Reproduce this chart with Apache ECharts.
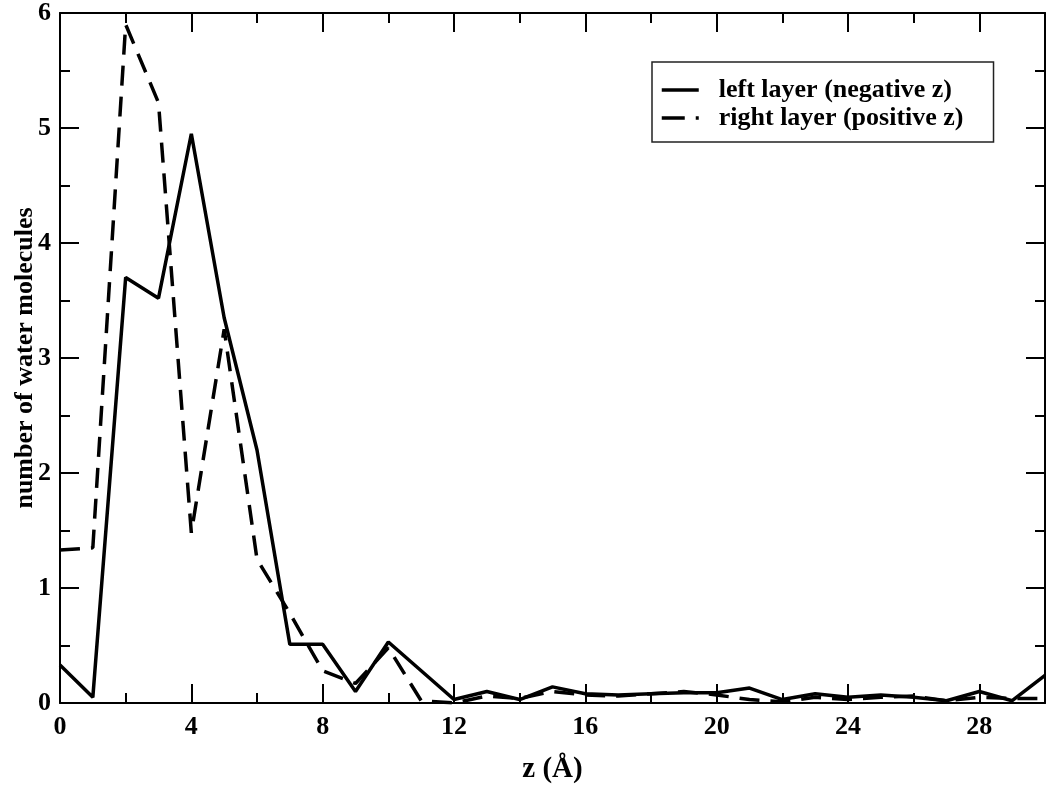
<!DOCTYPE html>
<html>
<head>
<meta charset="utf-8">
<script src="https://cdn.jsdelivr.net/npm/echarts@6/dist/echarts.min.js"></script>
<style>html,body{margin:0;padding:0;background:#fff;}#c{width:1050px;height:785px;}</style>
</head>
<body>
<div id="c"></div>
<script>
var zValues = [0,1,2,3,4,5,6,7,8,9,10,11,12,13,14,15,16,17,18,19,20,21,22,23,24,25,26,27,28,29,30];
var leftLayer = [0.33,0.05,3.7,3.52,4.95,3.35,2.2,0.51,0.51,0.1,0.53,0.28,0.03,0.1,0.03,0.14,0.08,0.07,0.08,0.09,0.09,0.13,0.03,0.08,0.05,0.07,0.05,0.02,0.1,0.02,0.24];
var rightLayer = [1.33,1.35,5.9,5.22,1.48,3.25,1.25,0.78,0.28,0.17,0.48,0.02,0.0,0.06,0.04,0.1,0.07,0.06,0.08,0.1,0.07,0.03,0.01,0.05,0.03,0.05,0.06,0.02,0.05,0.04,0.04];
var seriesNames = ['left layer (negative z)', 'right layer (positive z)'];
var xTitle = 'z (Å)';
var yTitle = 'number of water molecules';

var FONT = '"Liberation Serif", "Times New Roman", serif';
function pairs(ys){ return zValues.map(function(z,i){ return [z, ys[i]]; }); }

var axisLineStyle = { show: true, onZero: false, lineStyle: { color: '#000', width: 2 } };
var majorTick = { show: true, inside: true, length: 19, lineStyle: { color: '#000', width: 2 } };
var minorTick = { show: true, splitNumber: 2, length: 10, lineStyle: { color: '#000', width: 2 } };

var chart = echarts.init(document.getElementById('c'), null, { renderer: 'canvas' });
chart.setOption({
  animation: false,
  backgroundColor: '#fff',
  grid: { left: 60, right: 5, top: 13, bottom: 82, containLabel: false, outerBoundsMode: 'none' },
  legend: {
    left: 652, top: 62,
    orient: 'vertical',
    backgroundColor: '#fff',
    borderColor: '#222', borderWidth: 1.5,
    padding: [15, 30, 11, 8],
    itemWidth: 37, itemHeight: 20, itemGap: 2,
    itemStyle: { opacity: 0, borderWidth: 0 },
    textStyle: { fontFamily: FONT, fontWeight: 'bold', fontSize: 26, lineHeight: 26, color: '#000', padding: [0, 0, 0, 15] },
    data: [
      { name: seriesNames[0], lineStyle: { type: 'solid', width: 3.5 } },
      { name: seriesNames[1], lineStyle: { type: [23, 11, 3, 40], width: 3.5 } }
    ]
  },
  xAxis: [{
    type: 'value', min: 0, max: 30, interval: 4, position: 'bottom',
    name: xTitle, nameLocation: 'middle', nameGap: 52, nameMoveOverlap: false,
    nameTextStyle: { fontFamily: FONT, fontWeight: 'bold', fontSize: 29, color: '#000' },
    axisLine: axisLineStyle, axisTick: majorTick, minorTick: minorTick,
    splitLine: { show: false }, minorSplitLine: { show: false },
    axisLabel: { fontFamily: FONT, fontWeight: 'bold', fontSize: 26, color: '#000', margin: 11, showMaxLabel: false }
  }, {
    type: 'value', min: 0, max: 30, interval: 4, position: 'top',
    axisLine: axisLineStyle, axisTick: majorTick, minorTick: minorTick,
    splitLine: { show: false }, axisLabel: { show: false }
  }],
  yAxis: [{
    type: 'value', min: 0, max: 6, interval: 1, position: 'left',
    name: yTitle, nameLocation: 'middle', nameGap: 22, nameMoveOverlap: false,
    nameTextStyle: { fontFamily: FONT, fontWeight: 'bold', fontSize: 26, color: '#000' },
    axisLine: axisLineStyle, axisTick: majorTick, minorTick: minorTick,
    splitLine: { show: false },
    axisLabel: { fontFamily: FONT, fontWeight: 'bold', fontSize: 26, color: '#000', margin: 9 }
  }, {
    type: 'value', min: 0, max: 6, interval: 1, position: 'right',
    axisLine: axisLineStyle, axisTick: majorTick, minorTick: minorTick,
    splitLine: { show: false }, axisLabel: { show: false }
  }],
  series: [{
    name: seriesNames[0], type: 'line', xAxisIndex: 0, yAxisIndex: 0,
    data: pairs(leftLayer), showSymbol: false, symbol: 'none',
    lineStyle: { color: '#000', width: 3.5, type: 'solid' }, itemStyle: { color: '#000' }
  }, {
    name: seriesNames[1], type: 'line', xAxisIndex: 0, yAxisIndex: 0,
    data: pairs(rightLayer), showSymbol: false, symbol: 'none',
    lineStyle: { color: '#000', width: 3.5, type: [20, 11] }, itemStyle: { color: '#000' }
  }]
});
</script>
</body>
</html>
